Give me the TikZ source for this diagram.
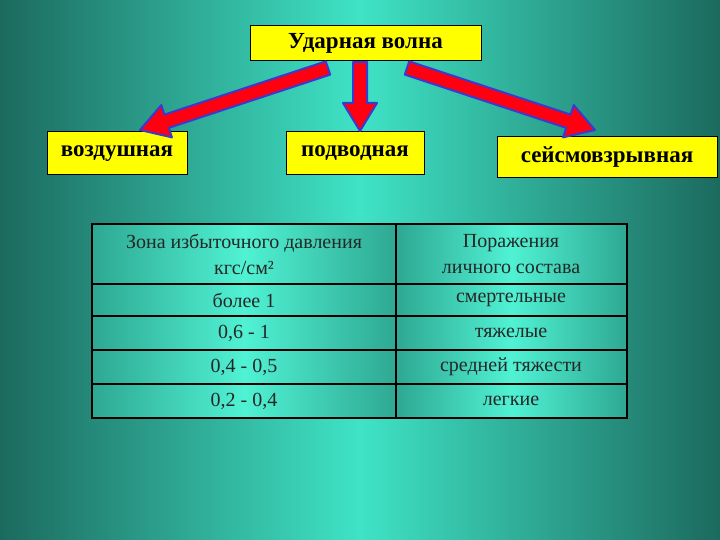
\documentclass[tikz,border=0pt]{standalone}
\usepackage{fontspec}
\setmainfont{Liberation Serif}
\usetikzlibrary{calc}
\definecolor{bgdark}{HTML}{1C6A5E}
\definecolor{bglight}{HTML}{3FE3C6}
\definecolor{celldark}{HTML}{2EA892}
\definecolor{celllight}{HTML}{50F2D4}
\definecolor{boxyellow}{HTML}{FFFF00}
\definecolor{arrred}{HTML}{FF0010}
\definecolor{arrblue}{HTML}{3A3AD0}
\tikzset{
  ybox/.style={draw=black,line width=1pt,fill=boxyellow,font=\bfseries\fontsize{23}{26}\selectfont,inner sep=0pt},
  cell/.style={draw=black,line width=1.6pt,left color=celldark,right color=celldark,middle color=celllight,shading angle=90},
  ctext/.style={font=\fontsize{20}{26}\selectfont,align=center,text=black!85}
}
\newcommand{\fatarrow}[2]{%
  \coordinate (H) at ($(#2)!28pt!(#1)$);
  \fill[arrred,draw=arrblue,line width=2pt,line join=round]
    ($(#1)!7pt!90:(#2)$) -- ($(H)!7pt!90:(#2)$) -- ($(H)!17pt!90:(#2)$) -- (#2)
    -- ($(H)!17pt!-90:(#2)$) -- ($(H)!7pt!-90:(#2)$) -- ($(#1)!7pt!-90:(#2)$) -- cycle;}
\begin{document}
\begin{tikzpicture}[x=1pt,y=-1pt]
\shade[left color=bgdark,right color=bgdark,middle color=bglight] (0,0) rectangle (720,540);
\useasboundingbox (0,0) rectangle (720,540);
% boxes
\node[ybox,minimum width=231,minimum height=35] (top) at (365.5,43.5) {Ударная волна};
\node[ybox,minimum width=140,minimum height=43] (air) at (117,153.5) {воздушная};
\node[ybox,minimum width=138,minimum height=43] (water) at (355,153.5) {подводная};
\node[ybox,minimum width=220,minimum height=41] (seis) at (607,157.5) {сейсмовзрывная};
% arrows
\coordinate (a1) at (328,68); \coordinate (b1) at (140,130);
\coordinate (a2) at (360,62); \coordinate (b2) at (360,131);
\coordinate (a3) at (407,68); \coordinate (b3) at (595,130);
\fatarrow{a1}{b1}
\fatarrow{a2}{b2}
\fatarrow{a3}{b3}
% table
\foreach \ya/\yb [count=\i] in {224/284,284/316,316/350,350/384,384/418}{
  \draw[cell] (92,\ya) rectangle (396,\yb);
  \draw[cell] (396,\ya) rectangle (627,\yb);
}
\node[ctext] (h1) at (244,254) {Зона избыточного давления\\кгс/см²};
\node[ctext] (h2) at (511,254) {Поражения\\личного состава};
\node[ctext] (l1) at (244,300) {более 1};
\node[ctext] (r1) at (511,300) {смертельные};
\node[ctext] (l2) at (244,333) {0,6 - 1};
\node[ctext] (r2) at (511,333) {тяжелые};
\node[ctext] (l3) at (244,367) {0,4 - 0,5};
\node[ctext] (r3) at (511,367) {средней тяжести};
\node[ctext] (l4) at (244,401) {0,2 - 0,4};
\node[ctext] (r4) at (511,401) {легкие};
\end{tikzpicture}
\end{document}
